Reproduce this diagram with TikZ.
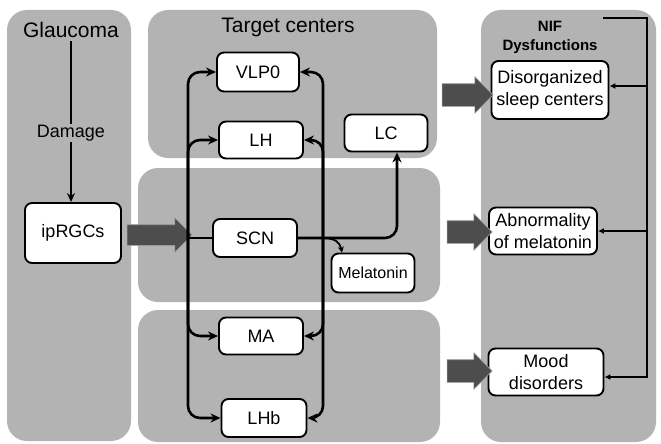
\documentclass[tikz,border=0pt]{standalone}
\usepackage{fontspec}
\setmainfont{Liberation Sans}
\usetikzlibrary{arrows.meta,shapes.arrows}
\definecolor{panelgray}{HTML}{B3B3B3}
\definecolor{arrowdark}{HTML}{4D4D4D}
\definecolor{arrowedge}{HTML}{9C9C9C}

\begin{document}
\begin{tikzpicture}[x=1pt,y=-1pt,
  panel/.style={fill=panelgray,rounded corners=20pt},
  head/.style={font=\fontsize{21}{25}\selectfont},
  box/.style={draw,line width=1.9pt,rounded corners=7pt,fill=white,inner sep=2pt,align=center,font=\fontsize{18}{22.5}\selectfont},
  fat/.style={single arrow,fill=arrowdark,draw=arrowedge,line width=0.6pt,inner xsep=0pt,inner ysep=10pt,single arrow head extend=7pt},
  bus/.style={line width=2.6pt,rounded corners=12pt,-{Stealth[length=10pt,width=9pt]}},
  fb/.style={line width=2pt,-{Latex[length=6pt,width=6pt]}}]
\fill[white] (0,0) rectangle (661,444);
\useasboundingbox (0,0) rectangle (661,444);

% background panels
\fill[panel] (7,10) rectangle (131,441);
\fill[panel] (148,10) rectangle (437,158);
\fill[panel] (138,168) rectangle (440,302);
\fill[panel] (138,310) rectangle (440,442);
\fill[panel] (481,10) rectangle (656,442);

\node[head] (glau) at (71,30) {Glaucoma};
\node[head] (targ) at (288,27) {Target centers};
\node[font=\bfseries\fontsize{15}{19}\selectfont,align=center] (nif) at (550,37) {NIF\\Dysfunctions};
\node[font=\fontsize{18}{22}\selectfont,inner sep=1pt] (dmg) at (71,133) {Damage};

\node[box,minimum width=96pt,minimum height=60pt] (ip) at (73,233) {ipRGCs};
\node[box,minimum width=82pt,minimum height=39pt] (VLP0) at (258,72) {VLP0};
\node[box,minimum width=84pt,minimum height=37pt] (LH) at (261,140) {LH};
\node[box,minimum width=84pt,minimum height=38pt] (SCN) at (255,238) {SCN};
\node[box,minimum width=84pt,minimum height=37pt] (MA) at (261,336) {MA};
\node[box,minimum width=85pt,minimum height=38pt] (LHb) at (264,418) {LHb};
\node[box,minimum width=83pt,minimum height=37pt] (LC) at (386,133) {LC};
\node[box,minimum width=83pt,minimum height=39pt,font=\fontsize{16}{19}\selectfont] (mel) at (373,273) {Melatonin};
\node[box,minimum width=117pt,minimum height=58pt] (dis) at (550,90) {Disorganized\\sleep centers};
\node[box,minimum width=108pt,minimum height=47pt] (abn) at (543,231) {Abnormality\\of melatonin};
\node[box,minimum width=115pt,minimum height=47pt] (mood) at (546,372) {Mood\\disorders};

% thick grey arrows
\node[fat,minimum height=65pt] (fa1) at (154.5,235) {};
\node[fat,minimum height=51pt,inner ysep=11pt] (fa2) at (462,95) {};
\node[fat,minimum height=45pt,inner ysep=11pt] (fa3) at (464,232) {};
\node[fat,minimum height=45pt,inner ysep=11pt] (fa4) at (464,371) {};

\draw[line width=2.2pt] (glau.south) -- (dmg.north);
\draw[line width=2.2pt,-{Stealth[length=9pt,width=8pt]}] (dmg.south) -- (dmg.south |- ip.north);

% left and right buses
\coordinate (jl) at (188,238);
\coordinate (jr) at (323,238);
\draw[line width=2.6pt] (jl) -- (SCN.west);
\draw[bus] (jl) |- (VLP0.west);
\draw[bus] (jl) |- (LH.west);
\draw[bus] (jl) |- (MA.west);
\draw[bus] (jl) |- (LHb.west);
\draw[bus] (jr) |- (VLP0.east);
\draw[bus] (jr) |- (LH.east);
\draw[bus] (jr) |- (MA.east);
\draw[bus] (jr) |- (LHb.east);
\draw[bus] (SCN.east) -| ([xshift=11pt]LC.south);
\draw[line width=1.8pt,-{Stealth[length=6pt,width=6pt]}] (jr) .. controls +(12,0) and +(-2,-10) .. ([xshift=-31pt]mel.north);

% feedback line
\coordinate (fbs) at (603,18);
\coordinate (fbc) at (647,18);
\draw[fb] (fbs) -- (fbc) |- ([yshift=-5pt]mood.east);
\draw[fb] (fbc |- dis.east) ++(0,-4) -- ([yshift=4pt]dis.east);
\draw[fb] (fbc |- abn.east) -- (abn.east);
\end{tikzpicture}
\end{document}
